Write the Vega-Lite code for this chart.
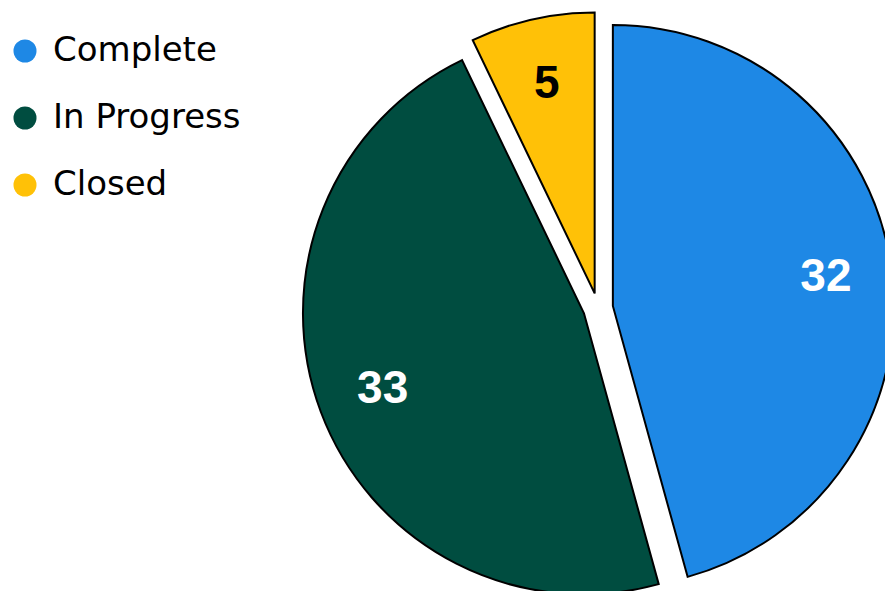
{
  "$schema": "https://vega.github.io/schema/vega-lite/v6.json",
  "width": 574,
  "height": 566,
  "autosize": {"type": "none"},
  "padding": {"left": 311, "top": 25, "right": 0, "bottom": 0},
  "background": "white",
  "config": {"view": {"stroke": null}},
  "data": {
    "values": [
      {"status": "Complete", "count": 32, "seq": 1},
      {"status": "In Progress", "count": 33, "seq": 2},
      {"status": "Closed", "count": 5, "seq": 3}
    ]
  },
  "encoding": {
    "theta": {"field": "count", "type": "quantitative", "stack": true},
    "order": {"field": "seq", "type": "quantitative"}
  },
  "layer": [
    {
      "mark": {
        "type": "arc",
        "outerRadius": 281,
        "stroke": "black",
        "strokeWidth": 2,
        "xOffset": {"expr": "15*sin((scale('theta', datum.count_start)+scale('theta', datum.count_end))/2)"},
        "yOffset": {"expr": "-15*cos((scale('theta', datum.count_start)+scale('theta', datum.count_end))/2)"}
      },
      "encoding": {
        "color": {
          "field": "status",
          "type": "nominal",
          "scale": {
            "domain": ["Complete", "In Progress", "Closed"],
            "range": ["#1E88E5", "#004D40", "#FFC107"]
          },
          "legend": {
            "orient": "none",
            "legendX": -303,
            "legendY": 9,
            "title": null,
            "padding": 0,
            "symbolType": "circle",
            "symbolSize": 530,
            "symbolStrokeWidth": 0,
            "labelFontSize": 34,
            "labelFont": "DejaVu Sans",
            "labelColor": "black",
            "labelOffset": 11,
            "labelLimit": 0,
            "rowPadding": 33
          }
        }
      }
    },
    {
      "mark": {
        "type": "text",
        "radius": 215,
        "font": "Liberation Sans",
        "fontSize": 46,
        "fontWeight": "bold",
        "xOffset": {"expr": "15*sin((scale('theta', datum.count_start)+scale('theta', datum.count_end))/2)"},
        "yOffset": {"expr": "-15*cos((scale('theta', datum.count_start)+scale('theta', datum.count_end))/2)"}
      },
      "encoding": {
        "detail": {"field": "status", "type": "nominal"},
        "text": {"field": "count", "type": "quantitative"},
        "color": {
          "condition": {"test": "datum.status === 'Closed'", "value": "black"},
          "value": "white"
        }
      }
    }
  ]
}
